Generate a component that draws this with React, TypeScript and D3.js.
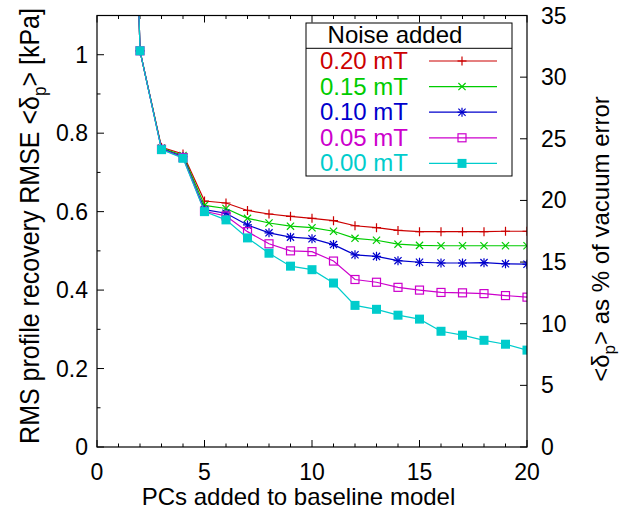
import React from "react";
import * as d3 from "d3";

const pcs = [1, 2, 3, 4, 5, 6, 7, 8, 9, 10, 11, 12, 13, 14, 15, 16, 17, 18, 19, 20];
const noise020 = [3.0, 1.01, 0.764, 0.747, 0.627, 0.622, 0.603, 0.594, 0.588, 0.583, 0.577, 0.564, 0.559, 0.552, 0.549, 0.549, 0.549, 0.549, 0.55, 0.55];
const noise015 = [3.0, 1.01, 0.762, 0.743, 0.616, 0.608, 0.583, 0.571, 0.563, 0.559, 0.55, 0.532, 0.527, 0.517, 0.514, 0.513, 0.513, 0.513, 0.513, 0.513];
const noise010 = [3.0, 1.01, 0.76, 0.74, 0.605, 0.596, 0.566, 0.546, 0.535, 0.531, 0.516, 0.49, 0.486, 0.475, 0.471, 0.469, 0.469, 0.47, 0.467, 0.466];
const noise005 = [3.0, 1.01, 0.759, 0.738, 0.601, 0.589, 0.549, 0.518, 0.5, 0.498, 0.474, 0.427, 0.42, 0.407, 0.4, 0.394, 0.393, 0.391, 0.386, 0.382];
const noise000 = [3.0, 1.01, 0.758, 0.736, 0.6, 0.579, 0.533, 0.494, 0.461, 0.452, 0.418, 0.361, 0.351, 0.336, 0.326, 0.295, 0.285, 0.272, 0.262, 0.247];

const seriesLabels = ["0.20 mT", "0.15 mT", "0.10 mT", "0.05 mT", "0.00 mT"];
const seriesValues = [noise020, noise015, noise010, noise005, noise000];
const seriesColors = ["#cc0000", "#00cc00", "#0000cc", "#cc00cc", "#00cccc"];
const seriesMarkers = ["plus", "cross", "star", "openSquare", "filledSquare"];

const xTicks = [0, 5, 10, 15, 20];
const xMinorTicks = d3.range(0, 21, 1);
const yTicks = [0, 0.2, 0.4, 0.6, 0.8, 1];
const yTickLabels = ["0", "0.2", "0.4", "0.6", "0.8", "1"];
const yMinorTicks = d3.range(0, 1.11, 0.1);
const y2Ticks = [0, 5, 10, 15, 20, 25, 30, 35];

const W = 632;
const H = 512;
const left = 97;
const right = 527;
const top = 15.5;
const bottom = 447;
const FONT = "'Liberation Sans', Arial, sans-serif";
const FS = 23;

function Marker({ type, x, y, color }: { type: string; x: number; y: number; color: string }) {
  const s = 4.5;
  if (type === "plus") {
    return (
      <g stroke={color} strokeWidth={1.2}>
        <line x1={x - s} x2={x + s} y1={y} y2={y} />
        <line x1={x} x2={x} y1={y - s} y2={y + s} />
      </g>
    );
  }
  if (type === "cross") {
    const c = 3.6;
    return (
      <g stroke={color} strokeWidth={1.2}>
        <line x1={x - c} x2={x + c} y1={y - c} y2={y + c} />
        <line x1={x - c} x2={x + c} y1={y + c} y2={y - c} />
      </g>
    );
  }
  if (type === "star") {
    const c = 3.6;
    return (
      <g stroke={color} strokeWidth={1.2}>
        <line x1={x - s} x2={x + s} y1={y} y2={y} />
        <line x1={x} x2={x} y1={y - s} y2={y + s} />
        <line x1={x - c} x2={x + c} y1={y - c} y2={y + c} />
        <line x1={x - c} x2={x + c} y1={y + c} y2={y - c} />
      </g>
    );
  }
  if (type === "openSquare") {
    return <rect x={x - 4} y={y - 4} width={8} height={8} fill="none" stroke={color} strokeWidth={1.2} />;
  }
  return <rect x={x - 4.5} y={y - 4.5} width={9} height={9} fill={color} />;
}

export default function App() {
  const x = d3.scaleLinear().domain([0, 20]).range([left, right]);
  const y = d3.scaleLinear().domain([0, 1.1]).range([bottom, top]);
  const y2 = d3.scaleLinear().domain([0, 35]).range([bottom, top]);
  const line = d3
    .line<number>()
    .x((_, i) => x(pcs[i]))
    .y((d) => y(d));

  const legendX0 = 306;
  const legendX1 = 512;
  const legendY0 = 23;
  const legendSep = 48.3;
  const legendY1 = 176;
  const rowY = (i: number) => 61 + i * 25.6;

  return (
    <svg
      width={W}
      height={H}
      style={{ position: "absolute", left: 0, top: 0, background: "#fff" }}
      fontFamily={FONT}
      fontSize={FS}
    >
      <defs>
        <clipPath id="plotClip">
          <rect x={left} y={top} width={right - left} height={bottom - top} />
        </clipPath>
      </defs>
      <rect x={0} y={0} width={W} height={H} fill="#fff" />

      {/* ticks */}
      <g stroke="#000" strokeWidth={1}>
        {xMinorTicks.map((t) => {
          const len = t % 5 === 0 ? 7 : 3.5;
          return (
            <g key={"xt" + t}>
              <line x1={x(t)} x2={x(t)} y1={bottom} y2={bottom - len} />
              <line x1={x(t)} x2={x(t)} y1={top} y2={top + len} />
            </g>
          );
        })}
        {yMinorTicks.map((t, i) => {
          const len = i % 2 === 0 ? 7 : 3.5;
          return <line key={"yt" + i} x1={left} x2={left + len} y1={y(t)} y2={y(t)} />;
        })}
        {y2Ticks.map((t) => (
          <line key={"y2t" + t} x1={right} x2={right - 7} y1={y2(t)} y2={y2(t)} />
        ))}
      </g>

      {/* tick labels */}
      <g fill="#000">
        {xTicks.map((t) => (
          <text key={"xl" + t} x={x(t)} y={480} textAnchor="middle">
            {t}
          </text>
        ))}
        {yTicks.map((t, i) => (
          <text key={"yl" + t} x={88} y={y(t) + 8} textAnchor="end">
            {yTickLabels[i]}
          </text>
        ))}
        {y2Ticks.map((t) => (
          <text key={"y2l" + t} x={541} y={y2(t) + 8} textAnchor="start">
            {t}
          </text>
        ))}
      </g>

      {/* data */}
      <g clipPath="url(#plotClip)">
        {seriesValues.map((vals, si) => (
          <g key={"s" + si}>
            <path d={line(vals) || ""} fill="none" stroke={seriesColors[si]} strokeWidth={1.2} />
            {vals.map((v, i) => (
              <Marker key={i} type={seriesMarkers[si]} x={x(pcs[i])} y={y(v)} color={seriesColors[si]} />
            ))}
          </g>
        ))}
      </g>

      {/* frame */}
      <rect x={left} y={top} width={right - left} height={bottom - top} fill="none" stroke="#000" strokeWidth={1.2} />

      {/* legend */}
      <rect x={legendX0} y={legendY0} width={legendX1 - legendX0} height={legendY1 - legendY0} fill="#fff" stroke="#000" strokeWidth={1} />
      <line x1={legendX0} x2={legendX1} y1={legendSep} y2={legendSep} stroke="#000" strokeWidth={1} />
      <text x={395} y={43} textAnchor="middle" fill="#000" fontSize={24}>
        Noise added
      </text>
      {seriesLabels.map((lab, i) => (
        <g key={"lg" + i}>
          <text x={408} y={rowY(i) + 8} textAnchor="end" fill={seriesColors[i]} fontSize={24}>
            {lab}
          </text>
          <line x1={429} x2={497} y1={rowY(i)} y2={rowY(i)} stroke={seriesColors[i]} strokeWidth={1.2} />
          <Marker type={seriesMarkers[i]} x={462} y={rowY(i)} color={seriesColors[i]} />
        </g>
      ))}

      {/* axis titles */}
      <text x={298.5} y={505} textAnchor="middle" fill="#000" fontSize={24}>
        PCs added to baseline model
      </text>
      <text transform={`translate(39,226) rotate(-90) scale(1,1.12)`} textAnchor="middle" fill="#000" fontSize={25}>
        RMS profile recovery RMSE &lt;δ
        <tspan fontSize={17} dy={6}>p</tspan>
        <tspan dy={-6}>&gt; [kPa]</tspan>
      </text>
      <text transform={`translate(609,239) rotate(-90)`} textAnchor="middle" fill="#000" fontSize={24}>
        &lt;δ
        <tspan fontSize={17} dy={6}>p</tspan>
        <tspan dy={-6}>&gt; as % of vacuum error</tspan>
      </text>
    </svg>
  );
}
